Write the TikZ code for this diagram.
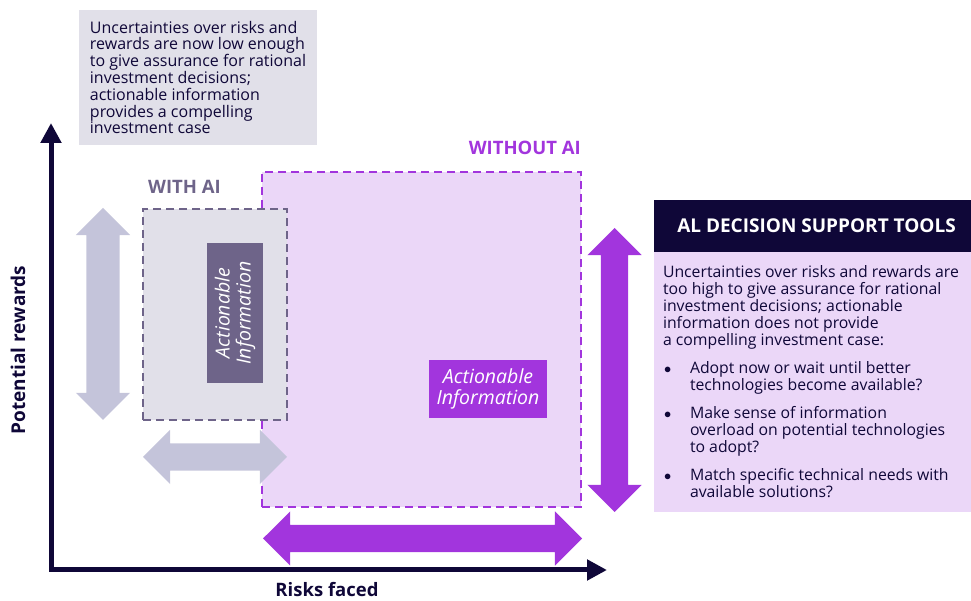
\documentclass[tikz,border=0pt]{standalone}
\usepackage{fontspec}
\setmainfont{Open Sans}
\usetikzlibrary{arrows.meta,shapes.arrows,positioning}
\definecolor{navy}{HTML}{0F0738}
\definecolor{greybox}{HTML}{E1E0E9}
\definecolor{greyarrow}{HTML}{C4C4DA}
\definecolor{slate}{HTML}{6E6489}
\definecolor{lavender}{HTML}{EBD7F8}
\definecolor{violet}{HTML}{A235DD}

\begin{document}
\begin{tikzpicture}[x=1pt,y=1pt,
   every node/.style={inner sep=0pt},
   txt/.style={font=\fontsize{15.8}{17}\selectfont, text=navy, align=left},
   tag/.style={font=\bfseries\fontsize{19}{21}\selectfont},
   zone/.style={draw, dash pattern=on 8pt off 5pt, line width=2pt},
   infobox/.style={font=\itshape\fontsize{19.5}{21}\selectfont, text=white, align=center},
   dblarrow/.style={double arrow, inner sep=13.5pt, double arrow head extend=13.5pt, minimum width=54pt}]
   \useasboundingbox (0,0) rectangle (971,601);
   \coordinate (origin) at (51,31);
   \coordinate (ytip) at (51,478);
   \coordinate (xtip) at (607,31);
   \draw[navy, line width=5pt, line join=miter, {Triangle[length=20pt,width=20pt]}-{Triangle[length=20pt,width=20pt]}] (ytip) -- (origin) -- (xtip);
   \node[tag, text=navy, rotate=90] (rewardslbl) at (18,251) {Potential rewards};
   \node[tag, text=navy, font=\bfseries\fontsize{18.5}{20}\selectfont] (riskslbl) at (327,11) {Risks faced};

   \node[txt, fill=greybox, minimum width=238pt, minimum height=135pt, font=\fontsize{16}{16.8}\selectfont] (certain) at (198,523.5)
      {Uncertainties over risks and\\rewards are now low enough\\to give assurance for rational\\investment decisions;\\actionable information\\provides a compelling\\investment case};

   \node[dblarrow, fill=greyarrow, inner sep=16.5pt, double arrow head extend=10.5pt, shape border rotate=90, minimum height=212pt] (rewardsAI) at (103,287) {};
   \node[zone, draw=violet, fill=lavender, minimum width=319pt, minimum height=335pt] (without) at (421.5,261.5) {};
   \node[tag, text=violet, anchor=east, font=\bfseries\fontsize{18.5}{21}\selectfont] (withoutlbl) at (581,453) {WITHOUT AI};
   \node[infobox, fill=violet, minimum width=118pt, minimum height=58pt] (info) at (488,212) {Actionable\\Information};
   \node[zone, draw=slate, fill=greybox, minimum width=144pt, minimum height=211pt] (with) at (215,286.5) {};
   \node[tag, text=slate, anchor=west, font=\bfseries\fontsize{18.5}{21}\selectfont] (withlbl) at (148,414) {WITH AI};
   \node[infobox, fill=slate, rotate=90, minimum width=140pt, minimum height=56pt] (infoAI) at (235,288) {Actionable\\Information};
   \node[dblarrow, fill=greyarrow, minimum height=144pt] (risksAI) at (215,144) {};
   \node[dblarrow, fill=violet, shape border rotate=90, minimum height=284pt] (rewardsnoAI) at (614.5,231) {};
   \node[dblarrow, fill=violet, minimum height=319pt] (risksnoAI) at (422.5,62.5) {};

   \node[fill=navy, text=white, font=\bfseries\fontsize{19}{21}\selectfont, minimum width=317pt, minimum height=52pt] (toolshead) at (812.5,375) {\hspace*{8pt}AL DECISION SUPPORT TOOLS};
   \node[fill=lavender, minimum width=317pt, minimum height=260pt, below=0pt of toolshead] (tools) {};
   \node[txt, anchor=north west] (toolstext) at ([xshift=9pt,yshift=-13pt]tools.north west)
      {Uncertainties over risks and rewards are\\too high to give assurance for rational\\investment decisions; actionable\\information does not provide\\a compelling investment case:\\[11pt]
       \makebox[27pt][l]{\hspace*{1pt}$\bullet$}Adopt now or wait until better\\\hspace*{27pt}technologies become available?\\[11pt]
       \makebox[27pt][l]{\hspace*{1pt}$\bullet$}Make sense of information\\\hspace*{27pt}overload on potential technologies\\\hspace*{27pt}to adopt?\\[11pt]
       \makebox[27pt][l]{\hspace*{1pt}$\bullet$}Match specific technical needs with\\\hspace*{27pt}available solutions?};
\end{tikzpicture}
\end{document}
